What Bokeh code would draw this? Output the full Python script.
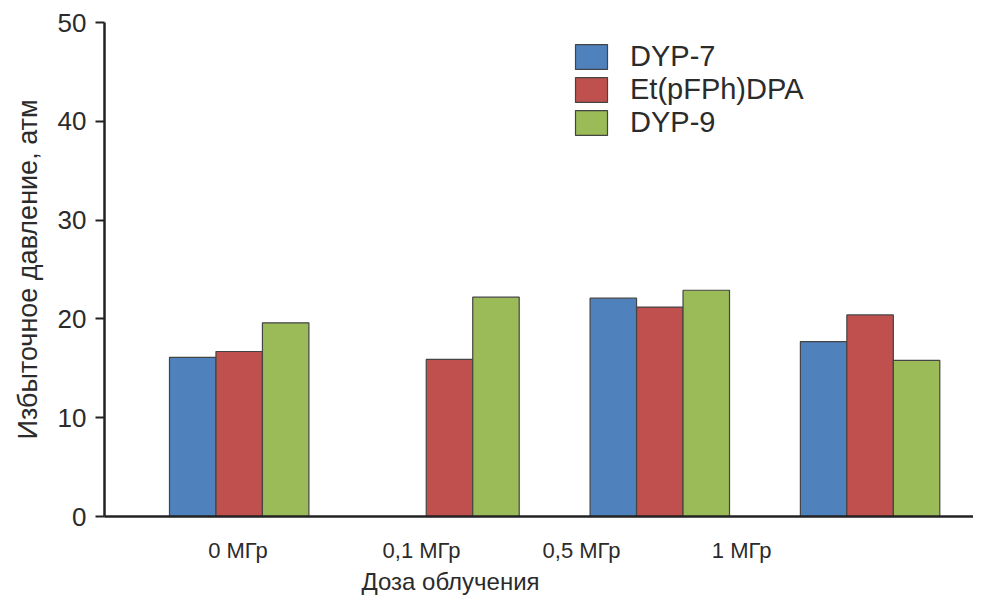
import numpy as np
from bokeh.plotting import figure
from bokeh.models import (ColumnDataSource, Range1d, FixedTicker, Legend, LegendItem, LinearAxis)
from bokeh.embed import file_html
from bokeh.resources import INLINE

# ---- data ----
categories = ["0 МГр", "0,1 МГр", "0,5 МГр", "1 МГр"]
series_names = ["DYP-7", "Et(pFPh)DPA", "DYP-9"]
dyp7 = [16.1, np.nan, 22.1, 17.7]
etpfph = [16.7, 15.9, 21.2, 20.4]
dyp9 = [19.6, 22.2, 22.9, 15.8]
y_ticks = [0, 10, 20, 30, 40, 50]
x_title = "Доза облучения"
y_title = "Избыточное давление, атм"

# ---- layout / style (not data) ----
colors = ["#4F81BD", "#C0504D", "#9BBB59"]
bar_w = 0.221
offsets = [-0.221, 0.0, 0.221]
label_pos = [-0.006, 0.867, 1.628, 2.389]   # where the category labels sit in the picture
x_title_pos = 1.005                          # where the x title sits in the picture
FONT = "Liberation Sans"
TXT = "#2b2b2b"

p = figure(width=973, height=597, output_backend="svg", toolbar_location=None,
           x_range=Range1d(-0.6405, 3.4917), y_range=Range1d(0, 50),
           min_border_left=104, min_border_top=22, min_border_bottom=81, min_border_right=0)
p.outline_line_color = None
p.background_fill_color = "white"
p.border_fill_color = "white"

renderers = []
base_x = np.arange(len(categories))
for vals, off, col in zip([dyp7, etpfph, dyp9], offsets, colors):
    src = ColumnDataSource(dict(x=base_x + off, top=vals))
    r = p.vbar(x="x", top="top", width=bar_w, bottom=0, source=src,
               fill_color=col, line_color="#444444", line_width=1.2)
    renderers.append(r)

# grid: only the top line at 50
p.xgrid.visible = False
p.ygrid.ticker = FixedTicker(ticks=[50])
p.ygrid.grid_line_color = "#9a9a9a"
p.ygrid.grid_line_width = 2

# y axis
ya = p.yaxis[0]
ya.ticker = FixedTicker(ticks=y_ticks)
ya.axis_line_color = "#222222"
ya.axis_line_width = 2.5
ya.major_tick_line_color = "#222222"
ya.major_tick_line_width = 2
ya.major_tick_out = 9
ya.major_tick_in = 0
ya.minor_tick_line_color = None
ya.major_label_text_font = FONT
ya.major_label_text_font_size = "26px"
ya.major_label_text_color = TXT
ya.major_label_standoff = 9
ya.axis_label = y_title
ya.axis_label_text_font = FONT
ya.axis_label_text_font_size = "27px"
ya.axis_label_text_font_style = "normal"
ya.axis_label_text_color = TXT
ya.axis_label_standoff = 12

# x axis (category labels)
xa = p.xaxis[0]
xa.ticker = FixedTicker(ticks=label_pos)
xa.major_label_overrides = {pos: lab for pos, lab in zip(label_pos, categories)}
xa.axis_line_color = "#222222"
xa.axis_line_width = 2.5
xa.major_tick_line_color = None
xa.major_tick_out = 0
xa.major_tick_in = 0
xa.minor_tick_line_color = None
xa.minor_tick_out = 0
xa.major_label_text_font = FONT
xa.major_label_text_font_size = "22px"
xa.major_label_text_color = TXT
xa.major_label_standoff = 21

# x title as a second, line-less axis so it can sit off-centre like the original
xt = LinearAxis(ticker=FixedTicker(ticks=[x_title_pos]),
                major_label_overrides={x_title_pos: x_title},
                axis_line_color=None, major_tick_line_color=None, minor_tick_line_color=None,
                major_tick_out=0, major_tick_in=0, minor_tick_out=0,
                major_label_text_font=FONT, major_label_text_font_size="24px",
                major_label_text_color=TXT, major_label_standoff=2)
p.add_layout(xt, "below")

legend = Legend(items=[LegendItem(label=n, renderers=[r]) for n, r in zip(series_names, renderers)],
                location=(467, 377), glyph_width=40, glyph_height=31, label_height=32,
                spacing=0, padding=0, margin=0, label_standoff=19,
                label_text_font=FONT, label_text_font_size="29px", label_text_color=TXT,
                border_line_color=None, background_fill_alpha=0)
p.add_layout(legend)

open("out.html", "w").write(file_html(p, INLINE))
